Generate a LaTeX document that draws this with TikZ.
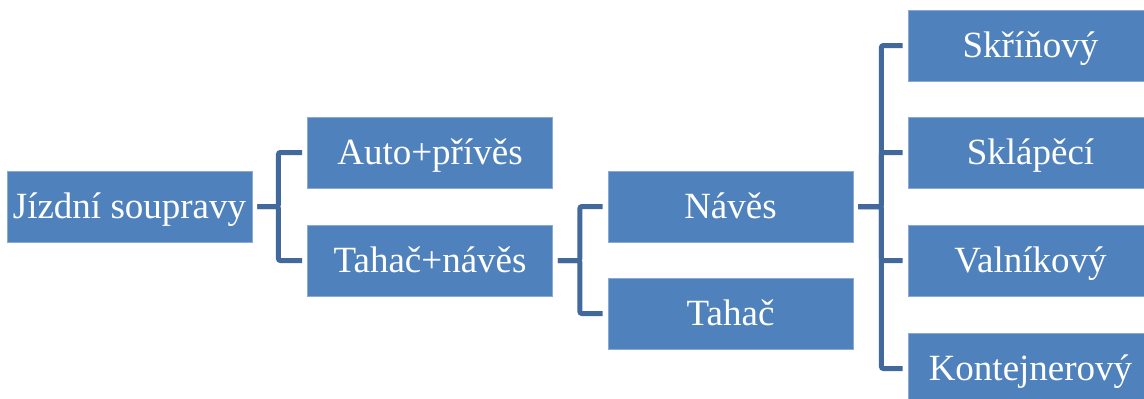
\documentclass[tikz,border=0pt]{standalone}
\usepackage{fontspec}
\setmainfont{Liberation Serif}
\definecolor{boxblue}{HTML}{4F81BD}
\definecolor{boxedge}{HTML}{8AAAD6}
\definecolor{linkblue}{HTML}{41699B}
\begin{document}
\begin{tikzpicture}[x=1pt,y=-1pt,
  box/.style={rectangle, fill=boxblue, draw=boxedge, line width=0.8pt,
    minimum width=245pt, minimum height=71pt, inner sep=0pt,
    text=white, text height=30.5pt, text depth=7.5pt,
    font=\fontsize{37}{41}\selectfont},
  conn/.style={draw=linkblue, line width=5pt, rounded corners=2pt}]
\useasboundingbox (0,0) rectangle (1144,399);
\clip (0,0) rectangle (1144,399);
\node[box] (j) at (129.5,206.5) {Jízdní soupravy};
\node[box] (a) at (430,152.5) {Auto+přívěs};
\node[box] (t) at (430,260.5) {Tahač+návěs};
\node[box] (n) at (730.5,206.5) {Návěs};
\node[box] (h) at (730.5,313.5) {Tahač};
\node[box] (s1) at (1030.5,45.5) {Skříňový};
\node[box] (s2) at (1030.5,152.5) {Sklápěcí};
\node[box] (s3) at (1030.5,260.5) {Valníkový};
\node[box] (s4) at (1030.5,368.5) {Kontejnerový};
\foreach \tgt in {a,t}
  \draw[conn] ([xshift=5pt]j.east) -- ++(21,0) |- ([xshift=-5pt]\tgt.west);
\foreach \tgt in {n,h}
  \draw[conn] ([xshift=5pt]t.east) -- ++(22,0) |- ([xshift=-5pt]\tgt.west);
\foreach \tgt in {s1,s2,s3,s4}
  \draw[conn] ([xshift=5pt]n.east) -- ++(23,0) |- ([xshift=-5pt]\tgt.west);
\end{tikzpicture}
\end{document}
